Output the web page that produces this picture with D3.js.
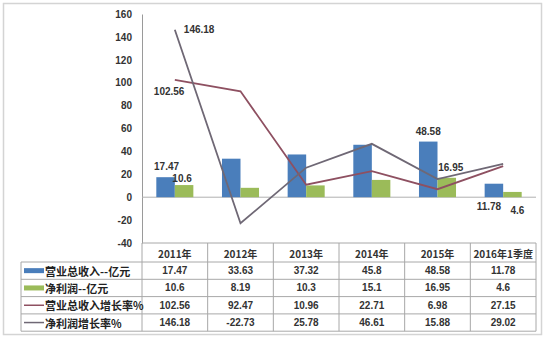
<!DOCTYPE html>
<html><head><meta charset="utf-8">
<script src="https://cdn.jsdelivr.net/npm/d3@7"></script>
<style>body{margin:0;background:#fff}svg{display:block}</style>
</head><body>
<svg id="c" width="550" height="339"></svg>
<script>
const categories = ["2011年","2012年","2013年","2014年","2015年","2016年1季度"];
const revenue = [17.47, 33.63, 37.32, 45.8, 48.58, 11.78];
const profit = [10.6, 8.19, 10.3, 15.1, 16.95, 4.6];
const revenueGrowth = [102.56, 92.47, 10.96, 22.71, 6.98, 27.15];
const profitGrowth = [146.18, -22.73, 25.78, 46.61, 15.88, 29.02];
const yTicks = [160,140,120,100,80,60,40,20,0,-20,-40];
const seriesNames = ["营业总收入--亿元","净利润--亿元","营业总收入增长率%","净利润增长率%"];

const svg = d3.select("#c");
const L = 142, R = 536, T = 14, B = 243;
const blue = "#4a7ebb", green = "#9bbb59", red = "#8e5061", gray = "#6f6875";
const font = "'Liberation Sans', Arial, sans-serif";
const cjk = "'Noto Sans CJK SC', sans-serif";

// outer border
svg.append("rect").attr("x",3.5).attr("y",3.5).attr("width",538).attr("height",331)
  .attr("fill","#fff").attr("stroke","#d4d4d4").attr("stroke-width",1.5);

const x = d3.scaleBand().domain(categories).range([L,R]).padding(0);
const cw = x.bandwidth();
const xs = d3.scaleBand().domain(["rev","pro"]).range([cw*0.218, cw*0.782]).padding(0);
const y = d3.scaleLinear().domain([-40,160]).range([B,T]);

// y axis
const yAxis = d3.axisLeft(y).tickValues(yTicks).tickSize(0).tickPadding(10).tickFormat(d=>String(d));
const ga = svg.append("g").attr("transform",`translate(${L},0)`).call(yAxis);
ga.select(".domain").attr("stroke","#9a9a9a");
ga.selectAll("text").attr("font-family",font).attr("font-size",10).attr("font-weight","bold").attr("fill","#333");

// zero line
svg.append("line").attr("x1",L).attr("x2",R).attr("y1",y(0)).attr("y2",y(0)).attr("stroke","#b0b0b0").attr("stroke-width",1);

// bars
svg.append("g").selectAll("rect").data(categories).join("rect")
  .attr("x",d=>x(d)+xs("rev")).attr("width",xs.bandwidth())
  .attr("y",(d,i)=>y(revenue[i])).attr("height",(d,i)=>y(0)-y(revenue[i])).attr("fill",blue);
svg.append("g").selectAll("rect").data(categories).join("rect")
  .attr("x",d=>x(d)+xs("pro")).attr("width",xs.bandwidth())
  .attr("y",(d,i)=>y(profit[i])).attr("height",(d,i)=>y(0)-y(profit[i])).attr("fill",green);

// lines
const line = d3.line().x((d,i)=>x(categories[i])+cw/2).y(d=>y(d));
svg.append("path").datum(revenueGrowth).attr("d",line).attr("fill","none").attr("stroke",red).attr("stroke-width",1.8);
svg.append("path").datum(profitGrowth).attr("d",line).attr("fill","none").attr("stroke",gray).attr("stroke-width",1.8);

// data labels
const lab = (txt, px, py, anchor) => svg.append("text").attr("x",px).attr("y",py).attr("text-anchor",anchor||"start")
  .attr("dominant-baseline","central").attr("font-family",font).attr("font-size",10).attr("font-weight","bold").attr("fill","#333").text(txt);
const cx = i => x(categories[i])+cw/2;
lab(profitGrowth[0], cx(0)+9, y(profitGrowth[0]));
lab(revenueGrowth[0], cx(0)-21, y(revenueGrowth[0])+12);
lab(revenue[0], x(categories[0])+xs("rev")+xs.bandwidth()/2+1, y(revenue[0])-11, "middle");
lab(profit[0], x(categories[0])+xs("pro")+xs.bandwidth()/2-2, y(profit[0])-7, "middle");
lab(revenue[4], x(categories[4])+xs("rev")+xs.bandwidth()/2, y(revenue[4])-10, "middle");
lab(profit[4], x(categories[4])+xs("pro")+xs.bandwidth()/2+4, y(profit[4])-10, "middle");
lab(revenue[5], x(categories[5])+xs("rev")+xs.bandwidth()/2-5, y(0)+9, "middle");
lab(profit[5], x(categories[5])+xs("pro")+xs.bandwidth()/2+5, y(0)+13, "middle");

// data table
const tableL = 21;
const rowsY = [B, 262, 279.3, 296.6, 313.9, 331.2];
const tc = "#a8a8a8";
const tg = svg.append("g");
x.domain().forEach((c,i)=>{
  tg.append("line").attr("x1",x(c)).attr("x2",x(c)).attr("y1",B).attr("y2",rowsY[5]).attr("stroke",tc);
});
tg.append("line").attr("x1",R).attr("x2",R).attr("y1",B).attr("y2",rowsY[5]).attr("stroke",tc);
tg.append("line").attr("x1",tableL).attr("x2",tableL).attr("y1",rowsY[1]).attr("y2",rowsY[5]).attr("stroke",tc);
for (let r=1;r<=5;r++) tg.append("line").attr("x1",tableL).attr("x2",R).attr("y1",rowsY[r]).attr("y2",rowsY[r]).attr("stroke",tc);
tg.append("line").attr("x1",L).attr("x2",R).attr("y1",B).attr("y2",B).attr("stroke",tc);

categories.forEach(c=>{
  tg.append("text").attr("x",x(c)+cw/2).attr("y",(rowsY[0]+rowsY[1])/2+1).attr("text-anchor","middle")
    .attr("dominant-baseline","central").attr("font-family",cjk).attr("font-size",10).attr("font-weight","bold").attr("fill","#333").text(c);
});
const rowsData = [revenue, profit, revenueGrowth, profitGrowth];
rowsData.forEach((arr,r)=>{
  const my = (rowsY[r+1]+rowsY[r+2])/2;
  arr.forEach((v,i)=>{
    tg.append("text").attr("x",cx(i)).attr("y",my).attr("text-anchor","middle").attr("dominant-baseline","central")
      .attr("font-family",font).attr("font-size",10).attr("font-weight","bold").attr("fill","#333").text(v);
  });
  if (r<2) tg.append("rect").attr("x",24).attr("y",my-2.5).attr("width",20).attr("height",5).attr("fill",r==0?blue:green);
  else tg.append("line").attr("x1",24).attr("x2",44).attr("y1",my).attr("y2",my).attr("stroke",r==2?red:gray).attr("stroke-width",1.5);
  tg.append("text").attr("x",45).attr("y",my).attr("dominant-baseline","central")
    .attr("font-family",cjk).attr("font-size",11).attr("font-weight","bold").attr("fill","#222").text(seriesNames[r]);
});
</script>
</body></html>
